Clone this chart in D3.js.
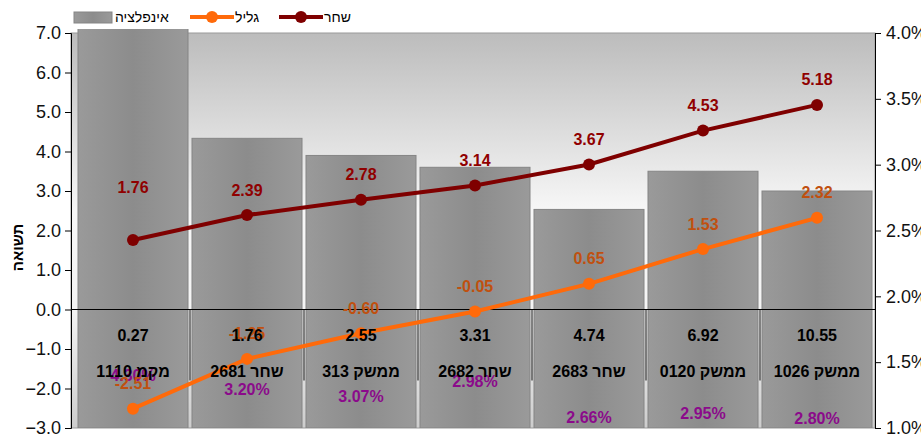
<!DOCTYPE html>
<html lang="he">
<head>
    <meta charset="UTF-8">
    <title>תשואה</title>
    <script src="https://d3js.org/d3.v7.min.js"></script>
    <style>
        body { margin: 0; background: #fff; }
        svg text { font-family: "Liberation Sans", Arial, sans-serif; }
    </style>
</head>
<body>
<svg id="chart" width="921" height="439"></svg>

<script>
    // data
    const names = ["מקמ 1110", "שחר 2681", "ממשק 313", "שחר 2682", "שחר 2683", "ממשק 0120", "ממשק 1026"];
    const durations = ["0.27", "1.76", "2.55", "3.31", "4.74", "6.92", "10.55"];
    const inflation = [4.30, 3.20, 3.07, 2.98, 2.66, 2.95, 2.80];
    const galil = [-2.51, -1.25, -0.60, -0.05, 0.65, 1.53, 2.32];
    const shahar = [1.76, 2.39, 2.78, 3.14, 3.67, 4.53, 5.18];
    const leftTicks = [-3, -2, -1, 0, 1, 2, 3, 4, 5, 6, 7];
    const rightTicks = [1.0, 1.5, 2.0, 2.5, 3.0, 3.5, 4.0];

    // hand placed labels (as in the original sheet)
    const pctLabelY = [375, 389, 396, 381, 417, 413, 418];
    const shaharLabelDy = [-53, -25, -25, -25, -25, -25, -25];

    const svg = d3.select("#chart");
    const plot = { left: 71, right: 875, top: 33, bottom: 428 };

    const x = d3.scaleBand().domain(d3.range(names.length))
        .range([76, 874]).paddingInner(0.035).paddingOuter(0.0175);
    const y = d3.scaleLinear().domain([-3, 7]).range([plot.bottom, plot.top]);
    const yR = d3.scaleLinear().domain([1, 4]).range([plot.bottom, plot.top]);
    const cx = i => x(i) + x.bandwidth() / 2;

    const defs = svg.append("defs");
    const bg = defs.append("linearGradient").attr("id", "bg").attr("x1", 0).attr("y1", 0).attr("x2", 0).attr("y2", 1);
    bg.append("stop").attr("offset", "0%").attr("stop-color", "#bcbcbc");
    bg.append("stop").attr("offset", "45%").attr("stop-color", "#f7f7f7");
    bg.append("stop").attr("offset", "70%").attr("stop-color", "#f4f4f4");
    bg.append("stop").attr("offset", "100%").attr("stop-color", "#cdcdcd");

    const barGrad = defs.append("linearGradient").attr("id", "bar").attr("x1", 0).attr("y1", 0).attr("x2", 1).attr("y2", 0);
    barGrad.append("stop").attr("offset", "0%").attr("stop-color", "#9a9a9a");
    barGrad.append("stop").attr("offset", "50%").attr("stop-color", "#8c8c8c");
    barGrad.append("stop").attr("offset", "100%").attr("stop-color", "#9a9a9a");

    defs.append("clipPath").attr("id", "clip").append("rect")
        .attr("x", plot.left).attr("y", plot.top - 4)
        .attr("width", plot.right - plot.left).attr("height", plot.bottom - plot.top + 4);

    // plot background
    svg.append("rect")
        .attr("x", plot.left).attr("y", plot.top)
        .attr("width", plot.right - plot.left).attr("height", plot.bottom - plot.top)
        .attr("fill", "url(#bg)").attr("stroke", "#9a9a9a");

    // inflation bars (right axis)
    svg.append("g").attr("clip-path", "url(#clip)")
        .selectAll("rect").data(inflation).join("rect")
        .attr("x", (d, i) => x(i))
        .attr("y", d => yR(d))
        .attr("width", x.bandwidth())
        .attr("height", d => yR(1) - yR(d))
        .attr("fill", "url(#bar)")
        .attr("stroke", "#858585");

    // zero line + category ticks
    svg.append("line")
        .attr("x1", plot.left).attr("x2", plot.right)
        .attr("y1", y(0)).attr("y2", y(0))
        .attr("stroke", "#000");
    svg.append("g").selectAll("line").data(d3.range(1, names.length)).join("line")
        .attr("x1", i => x(i) - x.step() * x.paddingInner() / 2)
        .attr("x2", i => x(i) - x.step() * x.paddingInner() / 2)
        .attr("y1", y(0)).attr("y2", y(0) + 71)
        .attr("stroke", "#111");

    // percent labels
    svg.append("g").selectAll("text").data(inflation).join("text")
        .attr("x", (d, i) => cx(i))
        .attr("y", (d, i) => pctLabelY[i])
        .attr("dy", "0.35em")
        .attr("text-anchor", "middle")
        .attr("font-size", 16).attr("font-weight", "bold")
        .attr("fill", "#8b0a8b")
        .text(d => d.toFixed(2) + "%");

    // lines
    function drawSeries(values, color, labelColor, dys) {
        const line = d3.line().x((d, i) => cx(i)).y(d => y(d));
        svg.append("path").datum(values)
            .attr("d", line).attr("fill", "none")
            .attr("stroke", color).attr("stroke-width", 4);
        svg.append("g").selectAll("circle").data(values).join("circle")
            .attr("cx", (d, i) => cx(i)).attr("cy", d => y(d))
            .attr("r", 6).attr("fill", color);
        svg.append("g").selectAll("text").data(values).join("text")
            .attr("x", (d, i) => cx(i))
            .attr("y", (d, i) => y(d) + dys[i])
            .attr("dy", "0.35em")
            .attr("text-anchor", "middle")
            .attr("font-size", 16).attr("font-weight", "bold")
            .attr("fill", labelColor)
            .text(d => d.toFixed(2));
    }
    drawSeries(galil, "#ff6a0a", "#c0500f", galil.map(() => -25));
    drawSeries(shahar, "#7f0000", "#900000", shaharLabelDy);

    // category labels (two rows)
    const cat = svg.append("g").attr("font-size", 16).attr("font-weight", "bold").attr("fill", "#000");
    cat.selectAll(".dur").data(durations).join("text").attr("class", "dur")
        .attr("x", (d, i) => cx(i)).attr("y", y(0) + 26).attr("dy", "0.35em")
        .attr("text-anchor", "middle").text(d => d);
    cat.selectAll(".nm").data(names).join("text").attr("class", "nm")
        .attr("x", (d, i) => cx(i)).attr("y", y(0) + 62).attr("dy", "0.35em")
        .attr("text-anchor", "middle").attr("direction", "rtl")
        .style("unicode-bidi", "plaintext")
        .text(d => d);

    // axes
    const axL = svg.append("g").attr("transform", `translate(${plot.left},0)`)
        .call(d3.axisLeft(y).tickValues(leftTicks).tickFormat(d3.format(".1f")).tickSize(6).tickPadding(4));
    const axR = svg.append("g").attr("transform", `translate(${plot.right},0)`)
        .call(d3.axisRight(yR).tickValues(rightTicks).tickFormat(d => d.toFixed(1) + "%").tickSize(6).tickPadding(5));
    [axL, axR].forEach(ax => {
        ax.select(".domain").attr("stroke", "#000");
        ax.selectAll(".tick line").attr("stroke", "#000");
        ax.selectAll(".tick text").attr("font-size", 18).attr("fill", "#111")
            .style("font-family", "'Liberation Sans', Arial, sans-serif");
    });

    svg.append("text")
        .attr("transform", `translate(18,${(plot.top + plot.bottom) / 2 + 17}) rotate(-90)`)
        .attr("dy", "0.35em")
        .attr("text-anchor", "middle")
        .attr("font-size", 15).attr("font-weight", "bold")
        .text("תשואה");

    // legend
    const lg = svg.append("g").attr("font-size", 14);
    lg.append("rect").attr("x", 74).attr("y", 12).attr("width", 38).attr("height", 11)
        .attr("fill", "url(#bar)").attr("stroke", "#858585");
    lg.append("text").attr("x", 115).attr("y", 17).attr("dy", "0.35em").text("אינפלציה");
    [{ x: 190, color: "#ff6a0a", label: "גליל" }, { x: 279, color: "#7f0000", label: "שחר" }].forEach(s => {
        lg.append("line").attr("x1", s.x).attr("x2", s.x + 44).attr("y1", 17).attr("y2", 17)
            .attr("stroke", s.color).attr("stroke-width", 4);
        lg.append("circle").attr("cx", s.x + 22).attr("cy", 17).attr("r", 6).attr("fill", s.color);
        lg.append("text").attr("x", s.x + 45).attr("y", 17).attr("dy", "0.35em").text(s.label);
    });
</script>
</body>
</html>
